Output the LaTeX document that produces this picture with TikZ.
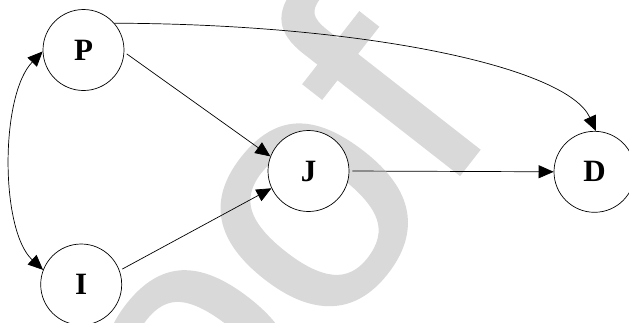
\documentclass[tikz,border=0pt]{standalone}
\usepackage{fontspec}
\setmainfont{Liberation Serif}
\newfontfamily\labelfont{Liberation Serif}[UprightFont={* Bold}]
\newfontfamily\markfont{Liberation Sans}[FakeBold=1.2]
\usetikzlibrary{arrows.meta}
\definecolor{wmgray}{RGB}{217,217,217}
\begin{document}
\begin{tikzpicture}[x=1pt,y=-1pt,
  state/.style={circle,draw,fill=white,line width=0.7pt,minimum size=81pt,
    inner sep=0pt,font=\labelfont\fontsize{31}{31}\selectfont},
  link/.style={line width=0.7pt,-{Triangle[length=15pt,width=13pt]}},
  twoway/.style={line width=0.7pt,{Triangle[length=15pt,width=13pt]}-{Triangle[length=15pt,width=13pt]}},
  watermark/.style={inner sep=0pt,anchor=base east,rotate=52,text=wmgray,
    font=\markfont\fontsize{335}{335}\selectfont}]
\useasboundingbox (0,0) rectangle (629,322);

% background stamp
\begin{scope}
  \clip (0,0) rectangle (629,322);
  \node[watermark] (stamp) at (499,123) {Proof};
\end{scope}

% states
\node[state] (P) at (83.5,50) {P};
\node[state] (I) at (81.2,284.5) {I};
\node[state] (J) at (308.5,171) {J};
\node[state] (D) at (594.5,171.8) {D};

% dependencies
\draw[twoway] (P.182) .. controls (0,95) and (0,230) .. (I.159);
\draw[link,shorten <=3pt] (P.-3) -- (J.159);
\draw[link,shorten <=3pt] (I.20) -- (J.205);
\draw[link,shorten <=3pt] (J.east) -- (D.west);
\draw[link] (P.41) .. controls (365,24) and (567,67) .. (D.88);
\end{tikzpicture}
\end{document}
